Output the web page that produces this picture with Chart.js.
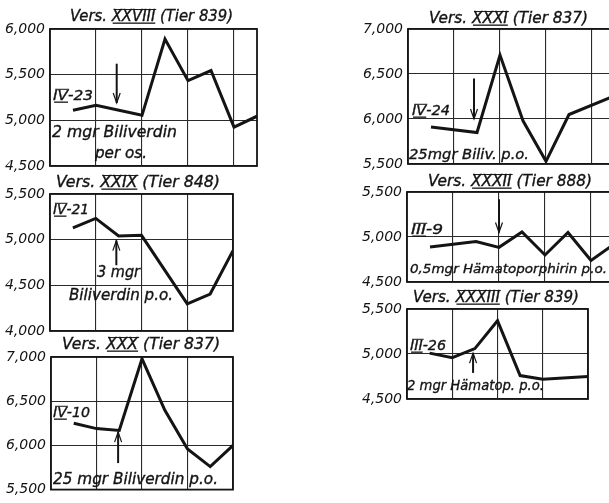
<!DOCTYPE html>
<html>
<head>
<meta charset="utf-8">
<script src="https://cdn.jsdelivr.net/npm/chart.js@4"></script>
<style>
  html, body { margin: 0; padding: 0; background: #fff; overflow: hidden; width: 609px; height: 503px; }
  canvas { position: absolute; left: 0; top: 0; }
</style>
</head>
<body>
<canvas id="v28" width="640" height="503"></canvas>
<canvas id="v29" width="640" height="503"></canvas>
<canvas id="v30" width="640" height="503"></canvas>
<canvas id="v31" width="640" height="503"></canvas>
<canvas id="v32" width="640" height="503"></canvas>
<canvas id="v33" width="640" height="503"></canvas>
<script>
// Leukocyte counts per experiment, indexed by half-day reading number
const days28 = [1, 2, 4, 5, 6, 7, 8, 9];
const counts28 = [5110, 5165, 5055, 5890, 5435, 5545, 4925, 5045];
const yTicks28 = [4500, 5000, 5500, 6000];

const days29 = [1, 2, 3, 4, 6, 7, 8];
const counts29 = [5130, 5233, 5040, 5047, 4297, 4405, 4880];
const yTicks29 = [4000, 4500, 5000, 5500];

const days30 = [1, 2, 3, 4, 5, 6, 7, 8];
const counts30 = [6250, 6190, 6170, 6980, 6400, 5960, 5760, 6000];
const yTicks30 = [5500, 6000, 6500, 7000];

const days31 = [1, 3, 4, 5, 6, 7, 9];
const counts31 = [5910, 5850, 6710, 5980, 5530, 6050, 6260];
const yTicks31 = [5500, 6000, 6500, 7000];

const days32 = [1, 3, 4, 5, 6, 7, 8, 9];
const counts32 = [4890, 4950, 4885, 5055, 4800, 5050, 4740, 4920];
const yTicks32 = [4500, 5000, 5500];

const days33 = [1, 2, 3, 4, 5, 6, 8];
const counts33 = [5010, 4960, 5060, 5370, 4760, 4720, 4750];
const yTicks33 = [4500, 5000, 5500];

const gridDays = [0, 2, 4, 6, 8];

// Dose given (arrow position on the day axis, arrow tail -> tip in count units)
const dose28 = { day: 2.9, from: 5620, to: 5190 };
const dose29 = { day: 2.9, from: 4720, to: 4990 };
const dose30 = { day: 2.95, from: 5800, to: 6150 };
const dose31 = { day: 2.87, from: 6450, to: 6000 };
const dose32 = { day: 4, from: 5420, to: 5050 };
const dose33 = { day: 2.92, from: 4790, to: 5010 };

const R = t => ({ t, roman: true });

const INK = '#141414';
const FONT = '"DejaVu Sans"';

// Draws a run of italic text pieces squeezed to a given width; roman numerals get bars
function drawParts(ctx, parts, x, y, w, size) {
  ctx.save();
  ctx.font = `italic ${size}px ${FONT}`;
  ctx.fillStyle = INK;
  ctx.strokeStyle = INK;
  ctx.lineWidth = 0.35;
  ctx.textBaseline = 'alphabetic';
  ctx.textAlign = 'left';
  const items = parts.map(p => (typeof p === 'string' ? { t: p, roman: false } : p));
  const widths = items.map(p => ctx.measureText(p.t).width);
  const total = widths.reduce((a, b) => a + b, 0);
  ctx.translate(x, y);
  ctx.scale(w / total, 1);
  let cx = 0;
  items.forEach((p, i) => {
    ctx.fillText(p.t, cx, 0);
    ctx.strokeText(p.t, cx, 0);
    if (p.roman) {
      ctx.fillRect(cx + 1, 1.5, widths[i] - 1, 1.3);
      ctx.fillRect(cx + 2, -size * 0.73 - 1, widths[i] - 1, 1);
    }
    cx += widths[i];
  });
  ctx.restore();
}

function drawArrow(ctx, x, y1, y2) {
  const dir = y2 > y1 ? 1 : -1;
  ctx.save();
  ctx.strokeStyle = INK;
  ctx.lineWidth = 2;
  ctx.beginPath();
  ctx.moveTo(x, y1);
  ctx.lineTo(x, y2);
  ctx.stroke();
  ctx.lineWidth = 1.2;
  ctx.beginPath();
  ctx.moveTo(x - 3.5, y2 - dir * 10);
  ctx.lineTo(x, y2);
  ctx.lineTo(x + 3.5, y2 - dir * 10);
  ctx.stroke();
  ctx.restore();
}

const panels = [
  { id: 'v28', days: days28, counts: counts28, yTicks: yTicks28, dose: dose28, dayMax: 9,
    box: [50, 29, 257, 166],
    title: { parts: ['Vers. ', R('XXVIII'), ' (Tier 839)'], x: 70, y: 21, w: 163 },
    notes: [
      { parts: [R('IV'), '-23'], x: 53, y: 100, w: 40, size: 14 },
      { parts: ['2 mgr Biliverdin'], x: 52, y: 137, w: 125, size: 15 },
      { parts: ['per os.'], x: 95, y: 158, w: 52, size: 15 }
    ] },
  { id: 'v29', days: days29, counts: counts29, yTicks: yTicks29, dose: dose29, dayMax: 8,
    box: [50, 194, 233, 331],
    title: { parts: ['Vers. ', R('XXIX'), ' (Tier 848)'], x: 56, y: 187, w: 164 },
    notes: [
      { parts: [R('IV'), '-21'], x: 53, y: 214, w: 36, size: 14 },
      { parts: ['3 mgr'], x: 97, y: 277, w: 43, size: 15 },
      { parts: ['Biliverdin p.o.'], x: 69, y: 300, w: 104, size: 15 }
    ] },
  { id: 'v30', days: days30, counts: counts30, yTicks: yTicks30, dose: dose30, dayMax: 8,
    box: [51, 357, 233, 492],
    title: { parts: ['Vers. ', R('XXX'), ' (Tier 837)'], x: 62, y: 349, w: 158 },
    notes: [
      { parts: [R('IV'), '-10'], x: 53, y: 417, w: 37, size: 14 },
      { parts: ['25 mgr Biliverdin p.o.'], x: 53, y: 484, w: 165, size: 15 }
    ] },
  { id: 'v31', days: days31, counts: counts31, yTicks: yTicks31, dose: dose31, dayMax: 9,
    box: [408, 29, 615, 164],
    title: { parts: ['Vers. ', R('XXXI'), ' (Tier 837)'], x: 429, y: 23, w: 159 },
    notes: [
      { parts: [R('IV'), '-24'], x: 412, y: 115, w: 38, size: 14 },
      { parts: ['25mgr Biliv. p.o.'], x: 409, y: 159, w: 120, size: 14 }
    ] },
  { id: 'v32', days: days32, counts: counts32, yTicks: yTicks32, dose: dose32, dayMax: 9,
    box: [407, 192, 614, 282],
    title: { parts: ['Vers. ', R('XXXII'), ' (Tier 888)'], x: 428, y: 186, w: 164 },
    notes: [
      { parts: [R('III'), '-9'], x: 411, y: 234, w: 32, size: 14 },
      { parts: ['0,5mgr Hämatoporphirin p.o.'], x: 410, y: 273, w: 197, size: 13 }
    ] },
  { id: 'v33', days: days33, counts: counts33, yTicks: yTicks33, dose: dose33, dayMax: 8,
    box: [407, 309, 588, 399],
    title: { parts: ['Vers. ', R('XXXIII'), ' (Tier 839)'], x: 413, y: 302, w: 166 },
    notes: [
      { parts: [R('III'), '-26'], x: 410, y: 350, w: 36, size: 14 },
      { parts: ['2 mgr Hämatop. p.o.'], x: 407, y: 390, w: 137, size: 14 }
    ] }
];

// Frame, title, dose arrow and notes for one panel
function decorationsFor(p) {
  return {
    id: 'decorations',
    afterDraw(chart) {
      const { ctx, chartArea: a, scales } = chart;
      ctx.save();
      ctx.strokeStyle = INK;
      ctx.lineWidth = 1.8;
      ctx.strokeRect(a.left, a.top, a.right - a.left, a.bottom - a.top);
      ctx.restore();
      drawParts(ctx, p.title.parts, p.title.x, p.title.y, p.title.w, 15);
      p.notes.forEach(n => drawParts(ctx, n.parts, n.x, n.y, n.w, n.size));
      const x = scales.x.getPixelForValue(p.dose.day);
      drawArrow(ctx, x, scales.y.getPixelForValue(p.dose.from), scales.y.getPixelForValue(p.dose.to));
    }
  };
}

const W = 640, H = 503, AXIS_W = 50;

panels.forEach(p => {
  const [l, t, r, b] = p.box;
  const yt = p.yTicks;
  new Chart(document.getElementById(p.id), {
    type: 'line',
    data: {
      datasets: [{
        data: p.days.map((d, i) => ({ x: d, y: p.counts[i] })),
        borderColor: INK,
        borderWidth: 3,
        pointRadius: 0,
        tension: 0,
        borderJoinStyle: 'miter',
        fill: false
      }]
    },
    options: {
      responsive: false,
      animation: false,
      devicePixelRatio: 1,
      layout: { autoPadding: false, padding: { left: l - AXIS_W, top: t, right: W - r, bottom: H - b } },
      plugins: { legend: { display: false }, tooltip: { enabled: false } },
      scales: {
        x: {
          type: 'linear', min: 0, max: p.dayMax,
          afterBuildTicks: s => { s.ticks = gridDays.map(v => ({ value: v })); },
          afterFit: s => { s.height = 0; },
          ticks: { display: false },
          grid: { color: '#2a2a2a', lineWidth: 1.1, drawTicks: false },
          border: { display: false }
        },
        y: {
          type: 'linear', min: yt[0], max: yt[yt.length - 1],
          afterBuildTicks: s => { s.ticks = yt.map(v => ({ value: v })); },
          afterFit: s => { s.width = AXIS_W; },
          ticks: {
            color: INK, padding: 5,
            font: { family: 'DejaVu Sans', size: 14, style: 'italic' },
            callback: v => v.toLocaleString('en-US')
          },
          grid: { color: '#2a2a2a', lineWidth: 1.1, drawTicks: false },
          border: { display: false }
        }
      }
    },
    plugins: [decorationsFor(p)]
  });
});
</script>
</body>
</html>
